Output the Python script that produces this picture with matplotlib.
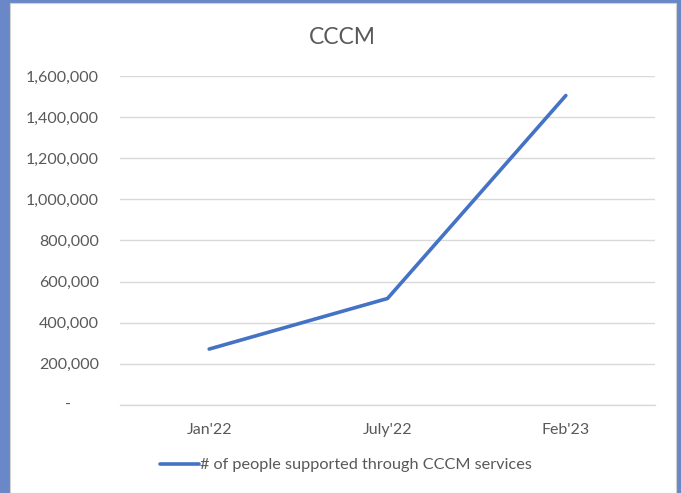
import numpy as np
import matplotlib.pyplot as plt
from matplotlib.patches import Rectangle
from matplotlib.ticker import FuncFormatter
import matplotlib.transforms as mtransforms

# data
months = ["Jan'22", "July'22", "Feb'23"]
people = [272000, 518000, 1505000]
yticks = [0, 200000, 400000, 600000, 800000, 1000000, 1200000, 1400000, 1600000]

plt.rcParams['font.family'] = ['Lato', 'DejaVu Sans']
grey = '#595959'

fig = plt.figure(figsize=(6.81, 4.93), dpi=100)
fig.patch.set_facecolor('#6A88C8')
# white chart area with a thin grey edge
fig.patches.append(Rectangle((10/681, 0), 666/681, 490/493, transform=fig.transFigure,
                             facecolor='white', edgecolor='#D0D0D0', linewidth=0.8, zorder=-5))

ax = fig.add_axes([120/681, 1 - 405/493, 535/681, 329/493])
ax.set_zorder(2)
ax.set_facecolor('none')

x = np.arange(len(months))
ax.plot(x, people, color='#4472C4', linewidth=2.6, solid_capstyle='round',
        label='# of people supported through CCCM services', zorder=3)

ax.set_xlim(-0.5, len(months) - 0.5)
ax.set_ylim(0, 1600000)
ax.set_yticks(yticks)
ax.yaxis.set_major_formatter(FuncFormatter(lambda v, p: '' if v == 0 else f'{int(v):,}'))
ax.set_xticks(x)
ax.set_xticklabels(months)

ax.grid(axis='y', color='#D9D9D9', linewidth=1.0)
ax.axhline(0, color='#D9D9D9', linewidth=1.0, clip_on=False, zorder=1)
ax.set_axisbelow(True)
for s in ax.spines.values():
    s.set_visible(False)
ax.tick_params(axis='both', length=0, colors=grey, labelsize=11.5)
ax.tick_params(axis='y', pad=15)
ax.tick_params(axis='x', pad=13)

# zero shown as a dash, like an accounting format
trans = mtransforms.blended_transform_factory(fig.transFigure, ax.transData)
ax.text(68/681, 0, '-', transform=trans, ha='center', va='center', color=grey, fontsize=11.5)

fig.text(342/681, 1 - 38/493, 'CCCM', ha='center', va='center', color=grey, fontsize=16.5)

fig.legend(loc='center', bbox_to_anchor=(346/681, 1 - 465/493), frameon=False,
           fontsize=11.7, handlelength=2.4, handletextpad=0.05, labelcolor=grey)

fig.savefig('out.png', dpi=100, facecolor=fig.get_facecolor())
